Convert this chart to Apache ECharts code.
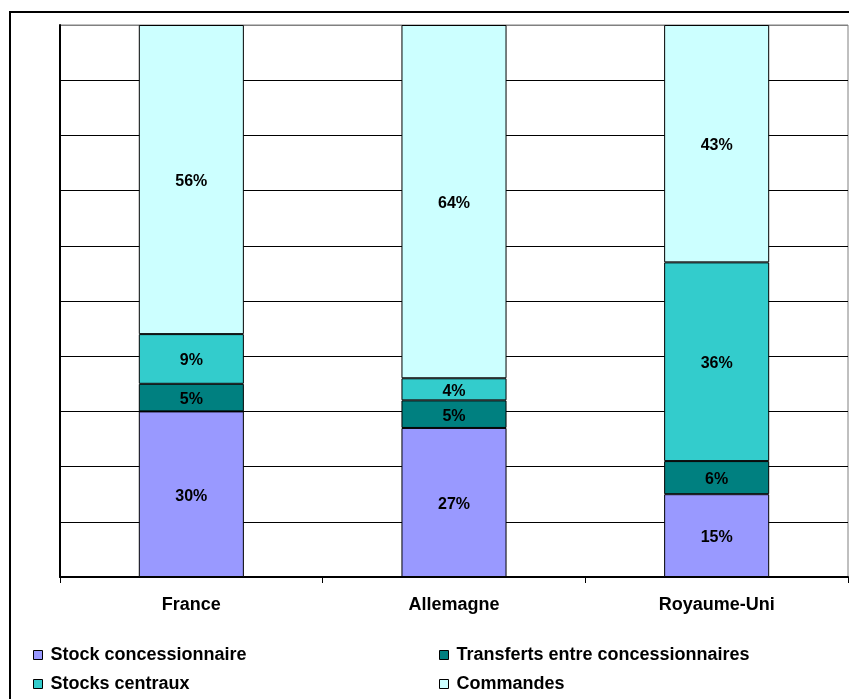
<!DOCTYPE html>
<html>
<head>
<meta charset="utf-8">
<script src="https://cdn.jsdelivr.net/npm/echarts@6/dist/echarts.min.js"></script>
<style>html,body{margin:0;padding:0;background:#fff}#c{width:849px;height:699px}</style>
</head>
<body>
<div id="c"></div>
<script>
const categories = ['France', 'Allemagne', 'Royaume-Uni'];
const stockConcessionnaire = [30, 27, 15];
const transferts = [5, 5, 6];
const stocksCentraux = [9, 4, 36];
const commandes = [56, 64, 43];
const seriesNames = ['Stock concessionnaire', 'Transferts entre concessionnaires', 'Stocks centraux', 'Commandes'];
const seriesColors = ['#9999FF', '#008080', '#33CCCC', '#CCFFFF'];
const seriesValues = [stockConcessionnaire, transferts, stocksCentraux, commandes];

const font = 'Liberation Sans, Arial, sans-serif';
const chart = echarts.init(document.getElementById('c'), null, {renderer: 'canvas'});

const splitColors = [];
for (let i = 0; i < 10; i++) splitColors.push('#000');
splitColors.push('#808080');

const legendBase = {
  orient: 'vertical', top: 645, height: 80, width: 400, padding: 0,
  itemWidth: 9, itemHeight: 9, itemGap: 9, icon: 'rect',
  textStyle: {fontFamily: font, fontWeight: 'bold', fontSize: 18, color: '#000', lineHeight: 20, padding: [0, 0, 0, 3]},
  itemStyle: {borderColor: '#000', borderWidth: 1}
};

chart.setOption({
  animation: false,
  backgroundColor: '#fff',
  graphic: [{
    type: 'rect', z: 100, silent: true,
    shape: {x: 10, y: 12, width: 900, height: 800},
    style: {fill: 'none', stroke: '#000', lineWidth: 2}
  }],
  grid: {left: 60, right: 1, top: 25, bottom: 122, show: true, borderColor: '#808080', borderWidth: 1, containLabel: false},
  xAxis: {
    type: 'category', data: categories,
    axisLine: {lineStyle: {color: '#000', width: 2}},
    axisTick: {show: true, length: 6, lineStyle: {color: '#000', width: 1}},
    axisLabel: {fontFamily: font, fontWeight: 'bold', fontSize: 18, color: '#000', margin: 19}
  },
  yAxis: {
    type: 'value', min: 0, max: 100, interval: 10,
    axisLine: {show: true, lineStyle: {color: '#000', width: 2}},
    axisTick: {show: false},
    axisLabel: {show: false},
    splitLine: {show: true, lineStyle: {color: splitColors, width: 1}}
  },
  legend: [
    Object.assign({}, legendBase, {data: [seriesNames[0], seriesNames[2]], left: 33}),
    Object.assign({}, legendBase, {data: [seriesNames[1], seriesNames[3]], left: 439})
  ],
  series: seriesNames.map((name, i) => ({
    name, type: 'bar', stack: 'total', barWidth: '40%',
    data: seriesValues[i],
    itemStyle: {color: seriesColors[i], borderColor: '#000', borderWidth: 1},
    label: {show: true, position: 'inside', offset: [0, 2], formatter: '{c}%', fontFamily: font, fontWeight: 'bold', fontSize: 16, color: '#000'}
  }))
});
</script>
</body>
</html>
